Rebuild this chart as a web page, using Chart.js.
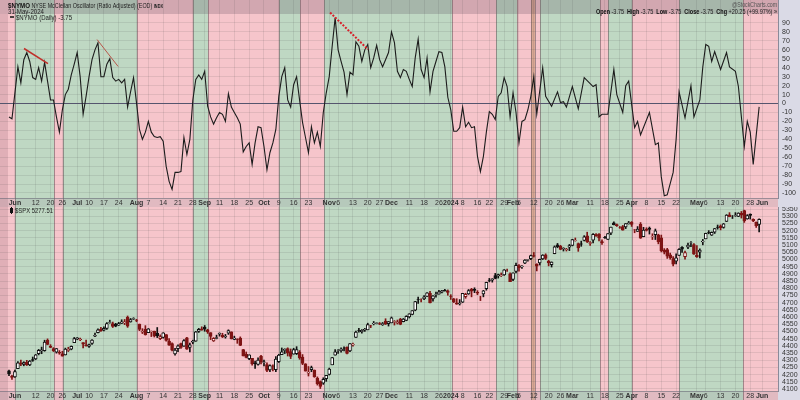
<!DOCTYPE html>
<html>
<head>
<meta charset="utf-8">
<script src="https://cdn.jsdelivr.net/npm/chart.js@4.4.1/dist/chart.umd.min.js"></script>
<style>
  body { margin: 0; background: #fff; }
  #wrap { position: relative; width: 800px; height: 400px; overflow: hidden; background: #dadae6; }
  canvas { position: absolute; left: 0; }
  #top { top: 0; }
  #bot { top: 207px; }
</style>
</head>
<body>
<div id="wrap">
  <canvas id="top" width="800" height="207"></canvas>
  <canvas id="bot" width="800" height="193"></canvas>
</div>
<script>
/* global Chart */

// trading-day index 0 = 30-May-2023, 253 = 31-May-2024
const tickDay = [2, 9, 14, 18, 23, 27, 32, 37, 43, 47, 52, 57, 62, 66, 71, 76, 81, 86, 91, 96, 101,
  108, 111, 116, 121, 125, 129, 135, 140, 145, 149, 153, 158, 162, 167, 170, 172, 177, 182, 186,
  190, 196, 201, 206, 210, 215, 220, 225, 232, 235, 240, 245, 250, 254];
const tickText = ["Jun", "12", "20", "26", "Jul", "10", "17", "24", "Aug", "7", "14", "21", "28", "Sep", "11", "18", "25", "Oct", "9", "16", "23",
  "Nov", "6", "13", "20", "27", "Dec", "11", "18", "26", "2024", "8", "16", "22", "29", "Feb", "5", "12", "20", "26",
  "Mar", "11", "18", "25", "Apr", "8", "15", "22", "May", "6", "13", "20", "28", "Jun"];

const nymoTicks = [90, 80, 70, 60, 50, 40, 30, 20, 10, 0, -10, -20, -30, -40, -50, -60, -70, -80, -90, -100];
const spxTicks = [5350, 5300, 5250, 5200, 5150, 5100, 5050, 5000, 4950, 4900, 4850, 4800, 4750, 4700, 4650,
  4600, 4550, 4500, 4450, 4400, 4350, 4300, 4250, 4200, 4150, 4100];

// shaded regions (edges in trading-day units) and their colour keys
const bandEdges = [-3.04, 2.02, 15.18, 18.21, 43.17, 62.06, 67.12, 91.06, 98.15, 106.24, 149.41, 164.25,
  171.33, 176.05, 177.4, 179.09, 199.33, 202.02, 210.12, 225.97, 247.55, 259.36];
const bandKinds = ["red", "green", "red", "green", "red", "green", "red", "green", "red", "green", "red", "green",
  "red", "tan", "red", "green", "red", "green", "red", "green", "red"];

// $NYMO daily close (null = not read, line spans across)
const nymoVal = [
  -15, -17, null, 41, 23, 49, 57, 47, 29, 27,
  40, 25, 46, 25, 4, 4, -15, -32, -7, 10,
  16, 32, 44, 57, 30, -12, 8, 30, 49, 60,
  68, 30, 30, 44, 50, 29, 25, 27, 23, 27,
  -4, 13, 29, 1, -29, -40, -32, -20, -32, -37,
  -38, -37, -42, -70, -87, -96, -77, -77, -76, -38,
  -57, -40, 4, 27, 32, 27, 36, -3, -15, -23,
  -16, -10, -12, -20, 11, -4, -10, -16, -23, -54,
  -48, -44, -68, -44, -26, -27, -48, -74, -55, -44,
  -29, 8, 30, 40, 4, -4, 21, 30, 4, -21,
  -38, -55, -26, -44, -32, -48, -10, 12, 30, 64,
  96, 60, 47, 35, 10, 35, 32, 69, 64, 47,
  60, 66, 40, 51, 65, 49, 41, 49, 57, 80,
  68, 36, 29, 38, 36, 27, 19, 51, 72, 38,
  29, 51, 13, 36, 47, 58, 57, 41, 7, -7,
  -31, -31, -27, -4, -26, -21, -27, -26, -59, -76,
  -59, -32, -9, -12, -18, 8, 12, 29, 19, -15,
  12, -10, -44, -20, -18, -7, 8, 30, -12, null,
  40, 8, null, -3, null, 13, 1, 2, -4, null,
  19, null, -6, null, 29, null, null, 19, 21, -15,
  -12, null, -12, null, 38, 10, null, -10, 20, 25,
  null, -27, -20, -35, null, null, -10, null, -46, -44,
  -82, -103, -102, null, -77, -40, 13, null, -16, null,
  20, -15, null, 4, 41, 66, 64, 47, 58, null,
  38, null, 57, 41, null, 36, 19, null, -48, -20,
  -32, -68, null, -3.75
];

// drawn trendlines on the oscillator
const trendFromDay = [5.06, 29.7, 108.3];
const trendFromVal = [61.5, 71.5, 101.7];
const trendToDay = [13.15, 36.8, 121.1];
const trendToVal = [44.7, 41.4, 60.4];

// $SPX daily OHLC
const spxOpen = [
  4226, 4190, 4184, 4241, 4282, 4271, 4285, 4268, 4304, 4308,
  4345, 4366, 4366, 4440, 4397, 4381, 4355, 4355, 4345, 4337,
  4367, 4377, 4422, 4450, 4442, 4423, 4404, 4395, 4416, 4467,
  4492, 4515, 4508, 4521, 4563, 4554, 4550, 4543, 4555, 4559,
  4598, 4565, 4585, 4578, 4550, 4494, 4514, 4491, 4498, 4502,
  4487, 4450, 4459, 4478, 4433, 4416, 4344, 4380, 4416, 4397,
  4455, 4389, 4426, 4432, 4500, 4518, 4530, 4510, 4491, 4434,
  4451, 4480, 4473, 4462, 4487, 4497, 4445, 4446, 4453, 4374,
  4341, 4311, 4313, 4282, 4270, 4328, 4284, 4270, 4233, 4259,
  4234, 4289, 4339, 4367, 4381, 4360, 4342, 4345, 4357, 4322,
  4274, 4210, 4235, 4232, 4175, 4152, 4140, 4172, 4201, 4268,
  4334, 4364, 4366, 4384, 4391, 4365, 4406, 4458, 4505, 4497,
  4509, 4511, 4539, 4553, 4555, 4555, 4546, 4571, 4554, 4559,
  4564, 4557, 4586, 4568, 4576, 4601, 4618, 4647, 4721, 4719,
  4725, 4743, 4764, 4725, 4754, 4758, 4773, 4786, 4782, 4745,
  4726, 4698, 4690, 4703, 4742, 4760, 4792, 4792, 4772, 4739,
  4760, 4796, 4853, 4856, 4888, 4886, 4888, 4892, 4925, 4899,
  4861, 4917, 4957, 4950, 4974, 4995, 5005, 5026, 4968, 4976,
  5004, 5031, 4989, 4963, 5039, 5101, 5093, 5074, 5067, 5085,
  5098, 5130, 5110, 5109, 5132, 5164, 5111, 5134, 5173, 5176,
  5123, 5154, 5139, 5182, 5254, 5242, 5220, 5228, 5226, 5249,
  5258, 5204, 5194, 5244, 5158, 5211, 5218, 5160, 5172, 5171,
  5149, 5065, 5068, 5032, 5005, 4987, 5028, 5084, 5019, 5085,
  5114, 5103, 5029, 5050, 5122, 5143, 5188, 5169, 5189, 5225,
  5234, 5222, 5264, 5310, 5303, 5305, 5299, 5320, 5340, 5281,
  5315, 5279, 5259, 5243
];
const spxHigh = [
  4231, 4195, 4232, 4290, 4300, 4289, 4299, 4298, 4322, 4340,
  4375, 4391, 4439, 4448, 4408, 4387, 4381, 4367, 4362, 4384,
  4390, 4399, 4458, 4457, 4454, 4423, 4440, 4412, 4443, 4488,
  4517, 4528, 4532, 4562, 4578, 4565, 4556, 4563, 4581, 4583,
  4607, 4590, 4595, 4584, 4551, 4519, 4540, 4520, 4503, 4502,
  4527, 4476, 4491, 4478, 4450, 4421, 4382, 4407, 4418, 4443,
  4458, 4418, 4439, 4500, 4521, 4532, 4541, 4515, 4491, 4457,
  4474, 4490, 4487, 4479, 4511, 4497, 4467, 4449, 4462, 4375,
  4357, 4338, 4313, 4293, 4317, 4333, 4300, 4282, 4268, 4268,
  4325, 4341, 4385, 4379, 4386, 4378, 4383, 4394, 4367, 4339,
  4276, 4256, 4259, 4232, 4184, 4156, 4178, 4194, 4245, 4319,
  4374, 4373, 4386, 4392, 4393, 4415, 4418, 4502, 4521, 4512,
  4521, 4557, 4542, 4569, 4560, 4562, 4562, 4588, 4569, 4600,
  4575, 4579, 4591, 4590, 4609, 4623, 4644, 4709, 4739, 4726,
  4749, 4769, 4779, 4748, 4773, 4785, 4785, 4793, 4788, 4755,
  4729, 4727, 4721, 4764, 4765, 4791, 4799, 4803, 4783, 4744,
  4785, 4842, 4868, 4866, 4903, 4898, 4906, 4929, 4932, 4906,
  4907, 4975, 4964, 4957, 4999, 5000, 5030, 5048, 4970, 5002,
  5033, 5039, 4994, 4983, 5094, 5111, 5098, 5081, 5077, 5104,
  5140, 5149, 5114, 5127, 5165, 5189, 5124, 5179, 5180, 5180,
  5136, 5161, 5180, 5225, 5261, 5246, 5229, 5236, 5249, 5264,
  5263, 5209, 5228, 5256, 5223, 5220, 5225, 5178, 5211, 5175,
  5169, 5075, 5077, 5044, 5019, 5038, 5076, 5089, 5057, 5114,
  5124, 5110, 5096, 5073, 5139, 5182, 5200, 5191, 5215, 5239,
  5240, 5250, 5311, 5325, 5305, 5325, 5324, 5333, 5342, 5311,
  5316, 5282, 5260, 5281
];
const spxLow = [
  4192, 4166, 4181, 4241, 4262, 4261, 4263, 4262, 4292, 4304,
  4337, 4345, 4362, 4407, 4387, 4360, 4349, 4341, 4328, 4336,
  4360, 4372, 4422, 4442, 4436, 4385, 4397, 4389, 4409, 4464,
  4489, 4499, 4504, 4514, 4557, 4527, 4532, 4541, 4555, 4547,
  4528, 4564, 4582, 4567, 4505, 4485, 4474, 4491, 4464, 4461,
  4457, 4443, 4453, 4432, 4403, 4364, 4335, 4360, 4382, 4396,
  4375, 4357, 4414, 4431, 4493, 4508, 4501, 4486, 4443, 4430,
  4448, 4467, 4457, 4453, 4479, 4447, 4442, 4417, 4401, 4329,
  4316, 4303, 4266, 4243, 4265, 4274, 4260, 4220, 4220, 4225,
  4220, 4284, 4339, 4346, 4329, 4311, 4342, 4339, 4306, 4269,
  4224, 4190, 4220, 4181, 4127, 4103, 4132, 4153, 4197, 4268,
  4334, 4347, 4355, 4365, 4343, 4360, 4397, 4458, 4495, 4488,
  4500, 4511, 4526, 4545, 4552, 4547, 4541, 4548, 4537, 4559,
  4544, 4551, 4546, 4566, 4574, 4593, 4615, 4643, 4694, 4705,
  4720, 4743, 4698, 4710, 4737, 4758, 4768, 4780, 4751, 4722,
  4700, 4688, 4683, 4700, 4730, 4757, 4740, 4769, 4755, 4714,
  4740, 4786, 4844, 4842, 4865, 4870, 4881, 4888, 4917, 4845,
  4853, 4907, 4918, 4938, 4970, 4987, 4999, 5016, 4920, 4961,
  4999, 4999, 4955, 4947, 5039, 5081, 5067, 5058, 5058, 5061,
  5094, 5127, 5056, 5091, 5128, 5117, 5097, 5115, 5160, 5129,
  5104, 5146, 5138, 5171, 5240, 5229, 5216, 5203, 5214, 5245,
  5229, 5185, 5194, 5146, 5157, 5197, 5176, 5138, 5138, 5108,
  5052, 5038, 5007, 5001, 4954, 4969, 5028, 5048, 5002, 5074,
  5088, 5035, 5013, 5011, 5101, 5143, 5178, 5166, 5180, 5210,
  5205, 5217, 5263, 5296, 5284, 5299, 5297, 5287, 5257, 5279,
  5280, 5262, 5222, 5191
];
const spxClose = [
  4205.5, 4179.8, 4221, 4282, 4273, 4283, 4267, 4293, 4299, 4338,
  4369, 4372, 4426, 4410, 4388, 4366, 4381, 4348, 4328, 4378,
  4376, 4396, 4450, 4455, 4446, 4411, 4399, 4409, 4439, 4472,
  4510, 4505, 4522, 4555, 4565, 4535, 4536, 4554, 4567, 4566,
  4537, 4582, 4589, 4577, 4513, 4501, 4478, 4518, 4499, 4468,
  4468, 4464, 4490, 4437, 4404, 4370, 4370, 4400, 4388, 4436,
  4376, 4406, 4433, 4497, 4514, 4508, 4516, 4497, 4465, 4451,
  4457, 4487, 4462, 4467, 4505, 4450, 4454, 4444, 4402, 4330,
  4320, 4337, 4274, 4275, 4300, 4288, 4288, 4229, 4263, 4258,
  4308, 4336, 4358, 4377, 4349, 4327, 4373, 4374, 4315, 4278,
  4224, 4217, 4248, 4186, 4137, 4117, 4167, 4194, 4238, 4318,
  4358, 4365, 4378, 4383, 4347, 4415, 4411, 4496, 4503, 4508,
  4514, 4547, 4538, 4556, 4559, 4550, 4555, 4551, 4568, 4595,
  4569, 4567, 4549, 4585, 4604, 4622, 4644, 4707, 4720, 4719,
  4740, 4768, 4698, 4747, 4755, 4775, 4781, 4783, 4770, 4743,
  4705, 4689, 4697, 4764, 4757, 4783, 4780, 4784, 4766, 4739,
  4781, 4840, 4851, 4865, 4868, 4894, 4891, 4928, 4925, 4846,
  4906, 4959, 4943, 4954, 4995, 4998, 5027, 5022, 4953, 5001,
  5030, 5006, 4976, 4982, 5087, 5089, 5070, 5078, 5070, 5096,
  5137, 5131, 5079, 5105, 5157, 5124, 5117, 5175, 5165, 5150,
  5117, 5149, 5179, 5224, 5241, 5234, 5218, 5203, 5248, 5254,
  5243, 5205, 5211, 5147, 5204, 5202, 5209, 5161, 5199, 5123,
  5061, 5051, 5022, 5011, 4967, 5011, 5070, 5071, 5048, 5100,
  5116, 5036, 5018, 5064, 5128, 5181, 5187, 5188, 5214, 5223,
  5221, 5247, 5308, 5297, 5303, 5308, 5321, 5307, 5268, 5305,
  5306, 5267, 5235, 5277.51
];

const FONT = "'Liberation Sans', Arial, sans-serif";
const BAND_FILL = { green: "#bfd8c3", red: "#f6c5cb", tan: "#d9a793" };
const X_MIN = -3.035;
const X_MAX = 259.36;
const UP = "#111111";
const DOWN = "#7e1414";

const isMajor = (k) => !/^\d{1,2}$/.test(tickText[k]);

const xAxis = (h) => ({
  type: "linear", min: X_MIN, max: X_MAX, bounds: "data", offset: false,
  afterBuildTicks: (s) => { s.ticks = tickDay.map((v) => ({ value: v })); },
  afterFit: (s) => { s.height = h; s.paddingLeft = 0; s.paddingRight = 0; },
  ticks: {
    autoSkip: false, maxRotation: 0, minRotation: 0, padding: 1, color: "#333",
    callback: (_v, k) => tickText[k],
    font: (c) => ({ family: FONT, size: 7, weight: isMajor(c.index) ? "bold" : "normal" })
  },
  grid: { color: "rgba(70,70,70,0.12)", drawTicks: false, offset: false },
  border: { display: false }
});

const yAxis = (min, max, ticks, zeroLine) => ({
  position: "right", min, max, bounds: "data",
  afterBuildTicks: (s) => { s.ticks = ticks.map((v) => ({ value: v })); },
  afterFit: (s) => { s.width = 22; s.paddingTop = 0; s.paddingBottom = 0; },
  ticks: { autoSkip: false, padding: 4, color: "#333", font: { family: FONT, size: 7 }, callback: (v) => String(v) },
  grid: {
    drawTicks: false,
    color: (c) => (zeroLine && c.tick && c.tick.value === 0 ? "#55556e" : "rgba(70,70,70,0.12)")
  },
  border: { display: true, color: "#8a8a99" }
});

// shaded background regions, header strip and axis panel
const bandsPlugin = {
  id: "bands",
  beforeDraw(chart, _args, opts) {
    const { ctx, chartArea } = chart;
    const x = chart.scales.x;
    const H = chart.height;
    ctx.save();
    ctx.fillStyle = "#dadae6";
    ctx.fillRect(chartArea.right, 0, chart.width - chartArea.right, H);
    for (let k = 0; k < bandKinds.length; k++) {
      const x1 = Math.max(0, x.getPixelForValue(bandEdges[k]));
      const x2 = Math.min(chartArea.right, x.getPixelForValue(bandEdges[k + 1]));
      ctx.fillStyle = BAND_FILL[bandKinds[k]];
      ctx.fillRect(x1, 0, x2 - x1, H);
    }
    ctx.fillStyle = "rgba(110,60,80,0.16)";
    ctx.fillRect(0, opts.header || 0, 8, H - (opts.header || 0));
    if (opts.header) {
      ctx.fillStyle = "rgba(70,50,70,0.2)";
      ctx.fillRect(0, 0, chartArea.right, opts.header);
    }
    ctx.fillStyle = "rgba(150,150,160,0.22)";
    ctx.fillRect(0, chartArea.bottom, chartArea.right, H - chartArea.bottom);
    ctx.strokeStyle = "rgba(110,90,95,0.6)";
    ctx.lineWidth = 1;
    for (let k = 1; k < bandEdges.length - 1; k++) {
      const px = Math.round(x.getPixelForValue(bandEdges[k])) + 0.5;
      ctx.beginPath();
      ctx.moveTo(px, 0);
      ctx.lineTo(px, H);
      ctx.stroke();
    }
    ctx.strokeStyle = "rgba(100,100,115,0.55)";
    ctx.beginPath();
    ctx.moveTo(0, chartArea.bottom + 0.5);
    ctx.lineTo(chartArea.right, chartArea.bottom + 0.5);
    ctx.stroke();
    ctx.restore();
  }
};

// text runs: [text, font, colour]; squeezed to the width measured on the reference
const drawRuns = (ctx, runs, x, y, width, align) => {
  let total = 0;
  for (const r of runs) { ctx.font = r[1]; total += ctx.measureText(r[0]).width; }
  const sx = width ? width / total : 1;
  ctx.save();
  ctx.translate(align === "right" ? x - total * sx : x, y);
  ctx.scale(sx, 1);
  let cx = 0;
  for (const r of runs) {
    ctx.font = r[1];
    ctx.fillStyle = r[2];
    ctx.fillText(r[0], cx, 0);
    cx += ctx.measureText(r[0]).width;
  }
  ctx.restore();
};

const headerPlugin = {
  id: "header",
  afterDraw(chart) {
    const { ctx } = chart;
    ctx.save();
    ctx.textBaseline = "alphabetic";
    drawRuns(ctx, [["$NYMO", `bold 8px ${FONT}`, "#111"],
      [" NYSE McClellan Oscillator (Ratio Adjusted) (EOD) ", `7px ${FONT}`, "#222"],
      ["INDX", `bold 5px ${FONT}`, "#222"]], 8, 8, 155);
    drawRuns(ctx, [["31-May-2024", `6.5px ${FONT}`, "#222"]], 8, 13.5, 36);
    drawRuns(ctx, [["@StockCharts.com", `6.5px ${FONT}`, "#555"]], 777, 7, 45, "right");
    const b = `bold 6.5px ${FONT}`;
    const n = `6.5px ${FONT}`;
    drawRuns(ctx, [["Open", b, "#111"], [" -3.75  ", n, "#222"], ["High", b, "#111"], [" -3.75  ", n, "#222"],
      ["Low", b, "#111"], [" -3.75  ", n, "#222"], ["Close", b, "#111"], [" -3.75  ", n, "#222"],
      ["Chg", b, "#111"], [" +20.25 (+99.97%) \u00bb", n, "#222"]], 777, 13.5, 181, "right");
    ctx.strokeStyle = "#111";
    ctx.lineWidth = 1.5;
    ctx.beginPath();
    ctx.moveTo(10, 17);
    ctx.lineTo(14, 17);
    ctx.stroke();
    drawRuns(ctx, [["$NYMO (Daily) -3.75", `6.5px ${FONT}`, "#222"]], 16, 19.5, 56);
    ctx.restore();
  }
};

const spxLegendPlugin = {
  id: "spxLegend",
  afterDraw(chart) {
    const { ctx } = chart;
    ctx.save();
    ctx.fillStyle = "#111";
    ctx.fillRect(10, 1, 3, 5);
    ctx.fillRect(11, 0, 1, 7);
    drawRuns(ctx, [["$SPX 5277.51", `6.5px ${FONT}`, "#222"]], 15, 6, 38);
    ctx.restore();
  }
};

const common = {
  responsive: false,
  animation: false,
  devicePixelRatio: 1,
  layout: { padding: 0 },
  events: []
};

new Chart(document.getElementById("top"), {
  type: "line",
  data: {
    datasets: [
      ...trendFromDay.map((d, k) => ({
        data: [{ x: d, y: trendFromVal[k] }, { x: trendToDay[k], y: trendToVal[k] }],
        borderColor: ["#c0302a", "#b8574a", "#d8202a"][k],
        borderWidth: [1.5, 1, 2][k],
        borderDash: k === 2 ? [2, 1.5] : [],
        pointRadius: 0
      })),
      {
        data: nymoVal.map((v, k) => ({ x: k, y: v })),
        borderColor: "#1c1c1c",
        borderWidth: 1.1,
        pointRadius: 0,
        tension: 0,
        spanGaps: true
      }
    ]
  },
  options: {
    ...common,
    plugins: { legend: { display: false }, tooltip: { enabled: false }, bands: { header: 14 } },
    scales: { x: xAxis(9), y: yAxis(-105.6, 115.7, nymoTicks, true) }
  },
  plugins: [bandsPlugin, headerPlugin]
});

const candleColor = spxClose.map((c, k) => (k > 0 && c < spxClose[k - 1] ? DOWN : UP));
const bodyFill = spxClose.map((c, k) => (c >= spxOpen[k] ? "#ffffff" : candleColor[k]));

new Chart(document.getElementById("bot"), {
  type: "bar",
  data: {
    datasets: [
      {
        data: spxOpen.map((o, k) => ({ x: k, y: [o, spxClose[k]] })),
        backgroundColor: bodyFill,
        borderColor: candleColor,
        borderWidth: 1,
        borderSkipped: false,
        barThickness: 3,
        grouped: false
      },
      {
        data: spxLow.map((l, k) => ({ x: k, y: [l, spxHigh[k]] })),
        backgroundColor: candleColor,
        borderWidth: 0,
        barThickness: 1,
        grouped: false
      }
    ]
  },
  options: {
    ...common,
    plugins: { legend: { display: false }, tooltip: { enabled: false }, bands: { header: 0 } },
    scales: { x: xAxis(9), y: yAxis(4086, 5364, spxTicks, false) }
  },
  plugins: [bandsPlugin, spxLegendPlugin]
});
</script>
</body>
</html>
